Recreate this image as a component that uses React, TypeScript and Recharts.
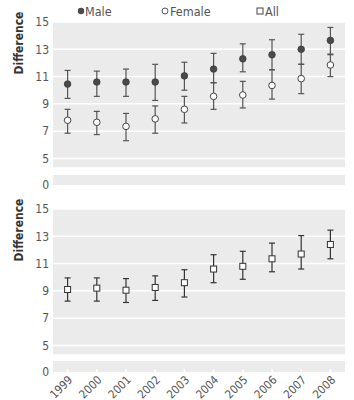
import React from "react"
import { ComposedChart, Scatter, ErrorBar, XAxis, YAxis, CartesianGrid } from "recharts"

const years = ["1999", "2000", "2001", "2002", "2003", "2004", "2005", "2006", "2007", "2008"]

const maleMean = [10.45, 10.6, 10.6, 10.6, 11.05, 11.55, 12.3, 12.6, 13.0, 13.65]
const maleLow = [9.4, 9.55, 9.55, 9.25, 10.0, 10.55, 11.35, 11.5, 11.9, 12.65]
const maleHigh = [11.45, 11.4, 11.55, 11.9, 12.05, 12.7, 13.4, 13.7, 14.1, 14.6]

const femaleMean = [7.8, 7.65, 7.35, 7.9, 8.6, 9.55, 9.65, 10.35, 10.85, 11.85]
const femaleLow = [6.85, 6.75, 6.3, 6.85, 7.6, 8.6, 8.7, 9.35, 9.75, 11.0]
const femaleHigh = [8.6, 8.45, 8.3, 8.85, 9.55, 10.55, 10.65, 11.5, 11.9, 12.6]

const allMean = [9.1, 9.2, 9.05, 9.25, 9.6, 10.6, 10.8, 11.35, 11.7, 12.4]
const allLow = [8.25, 8.25, 8.15, 8.3, 8.55, 9.6, 9.85, 10.4, 10.6, 11.35]
const allHigh = [9.95, 9.95, 9.9, 10.1, 10.55, 11.65, 11.9, 12.5, 13.05, 13.45]

const yTicks = [5, 7, 9, 11, 13, 15]
const zeroTicks = [0]
const xTicks = years.map((_, i) => i)

const data = years.map((year, i) => ({
  x: i,
  year,
  zero: 0,
  male: maleMean[i],
  maleErr: [maleMean[i] - maleLow[i], maleHigh[i] - maleMean[i]],
  female: femaleMean[i],
  femaleErr: [femaleMean[i] - femaleLow[i], femaleHigh[i] - femaleMean[i]],
  all: allMean[i],
  allErr: [allMean[i] - allLow[i], allHigh[i] - allMean[i]],
}))

const FONT = "'Liberation Sans Narrow', 'DejaVu Sans Condensed', 'Noto Sans', sans-serif"
const BG = "#ebebeb"
const TEXT = "#555"
const W = 354
const MARGIN_R = 9
const AXIS_W = 53

// eslint-disable-next-line @typescript-eslint/no-explicit-any
const MaleDot = (p: any) => <circle cx={p.cx} cy={p.cy} r={3.3} fill="#4a4a4a" stroke="#3a3a3a" strokeWidth={0.8} />
// eslint-disable-next-line @typescript-eslint/no-explicit-any
const FemaleDot = (p: any) => <circle cx={p.cx} cy={p.cy} r={3.3} fill="#fff" stroke="#444" strokeWidth={1} />
// eslint-disable-next-line @typescript-eslint/no-explicit-any
const AllDot = (p: any) => <rect x={p.cx - 3} y={p.cy - 3} width={6} height={6} fill="#fff" stroke="#333" strokeWidth={1} />

// eslint-disable-next-line @typescript-eslint/no-explicit-any
function YearTick({ x, y, payload }: any) {
  return (
    <text
      x={x}
      y={y}
      dy={8}
      transform={`rotate(-45 ${x} ${y})`}
      textAnchor="end"
      fill={TEXT}
      fontSize={11.5}
      fontFamily={FONT}
    >
      {years[payload.value]}
    </text>
  )
}

function xAxis(hide: boolean, labels: boolean) {
  return (
    <XAxis
      type="number"
      dataKey="x"
      domain={[-0.5, 9.5]}
      ticks={xTicks}
      hide={hide}
      axisLine={false}
      tickSize={-3}
      tickLine={{ stroke: "#fff", strokeWidth: 1.5 }}
      height={labels ? 40 : 2}
      tickMargin={labels ? 6 : 0}
      interval={0}
      tick={labels ? <YearTick /> : false}
    />
  )
}

function MainPanel({ top, marginTop, series }: { top: number; marginTop: number; series: "sex" | "all" }) {
  return (
    <div style={{ position: "absolute", left: 0, top }}>
      <ComposedChart
        width={W}
        height={marginTop + 146}
        data={data}
        margin={{ top: marginTop, right: MARGIN_R, bottom: 0, left: 0 }}
        style={{ fontFamily: FONT }}
      >
        <CartesianGrid fill={BG} stroke="#fff" strokeWidth={1.5} vertical={false} />
        {xAxis(true, false)}
        <YAxis
          type="number"
          domain={[4.3, 15]}
          ticks={yTicks}
          allowDataOverflow
          width={AXIS_W}
          axisLine={false}
          tickLine={false}
          tickSize={0}
          tickMargin={4}
          tick={{ fill: TEXT, fontSize: 12 }}
        />
        {series === "sex" ? (
          <Scatter dataKey="male" shape={MaleDot} isAnimationActive={false}>
            <ErrorBar dataKey="maleErr" direction="y" width={3} stroke="#555" strokeWidth={1.2} />
          </Scatter>
        ) : null}
        {series === "sex" ? (
          <Scatter dataKey="female" shape={FemaleDot} isAnimationActive={false}>
            <ErrorBar dataKey="femaleErr" direction="y" width={3} stroke="#555" strokeWidth={1.2} />
          </Scatter>
        ) : null}
        {series === "all" ? (
          <Scatter dataKey="all" shape={AllDot} isAnimationActive={false}>
            <ErrorBar dataKey="allErr" direction="y" width={3} stroke="#333" strokeWidth={1.2} />
          </Scatter>
        ) : null}
      </ComposedChart>
    </div>
  )
}

function ZeroStrip({ top, plotH, labels }: { top: number; plotH: number; labels: boolean }) {
  const axisH = labels ? 40 : 2
  const bottom = labels ? 0 : 10
  return (
    <div style={{ position: "absolute", left: 0, top }}>
      <ComposedChart
        width={W}
        height={plotH + axisH + bottom}
        data={data}
        margin={{ top: 0, right: MARGIN_R, bottom, left: 0 }}
        style={{ fontFamily: FONT }}
      >
        <CartesianGrid fill={BG} horizontal={false} vertical={false} />
        {xAxis(false, labels)}
        <YAxis
          type="number"
          domain={[0, 1]}
          ticks={zeroTicks}
          allowDataOverflow
          width={AXIS_W}
          axisLine={false}
          tickLine={false}
          tickSize={0}
          tickMargin={4}
          tick={{ fill: TEXT, fontSize: 12 }}
        />
        {/* invisible series so the axes get a domain */}
        <Scatter dataKey="zero" shape={() => <g />} isAnimationActive={false} />
      </ComposedChart>
    </div>
  )
}

export default function App() {
  return (
    <div style={{ position: "absolute", left: 0, top: 0, width: W, height: 400, background: "#fff", fontFamily: FONT }}>
      <MainPanel top={0} marginTop={22} series="sex" />
      <ZeroStrip top={175} plotH={10} labels={false} />
      <MainPanel top={199} marginTop={10} series="all" />
      <ZeroStrip top={361} plotH={11} labels={true} />
      <svg width={W} height={400} style={{ position: "absolute", left: 0, top: 0, pointerEvents: "none" }}>
        <g fontFamily={FONT} fontSize={12.5} fill={TEXT}>
          <circle cx={81} cy={11} r={3.2} fill="#4a4a4a" />
          <text x={85} y={15.5}>Male</text>
          <circle cx={165} cy={11} r={3} fill="#fff" stroke="#555" strokeWidth={1} />
          <text x={170} y={15.5}>Female</text>
          <rect x={257} y={8} width={6} height={6} fill="#fff" stroke="#444" strokeWidth={1} />
          <text x={265} y={15.5}>All</text>
        </g>
        <g fontFamily={FONT} fontSize={12} fontWeight="bold" fill="#333" textAnchor="middle">
          <text transform="translate(23,43) rotate(-90)">Difference</text>
          <text transform="translate(23,230) rotate(-90)">Difference</text>
        </g>
      </svg>
    </div>
  )
}
